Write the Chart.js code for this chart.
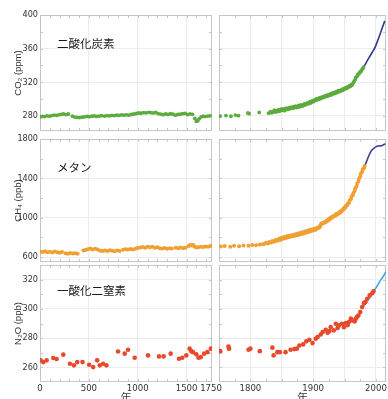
<!DOCTYPE html>
<html>
<head>
<meta charset="utf-8">
<script src="https://cdn.jsdelivr.net/npm/chart.js@4.4.0/dist/chart.umd.min.js"></script>
<style>
    html, body { margin: 0; padding: 0; background: #fff; width: 388px; height: 399px; overflow: hidden; }
    canvas { position: absolute; }
</style>
</head>
<body>
<script>
// ---- year axes
const leftYearTicks = [0, 500, 1000, 1500, 1750];
const leftYearMinor = [100, 200, 300, 400, 500, 600, 700, 800, 900, 1000, 1100, 1200, 1300, 1400, 1500, 1600, 1700];
const rightYearTicks = [1800, 1850, 1900, 1950, 2000];
const rightYearMinor = [1775, 1800, 1825, 1850, 1875, 1900, 1925, 1950, 1975, 2000];

// ---- concentration axes
const co2Ticks = [280, 320, 360, 400];
const co2Minor = [300, 340, 380];
const ch4Ticks = [600, 1000, 1400, 1800];
const ch4Minor = [800, 1200, 1600];
const n2oTicks = [260, 280, 300, 320];
const n2oMinor = [270, 290, 310];

// ---- CO2 (ppm): ice core, years 0-1750
const co2IceEarly = [[5,278.8],[25,279.5],[45,279.2],[70,280.1],[95,279.6],[120,280.4],[145,280.9],[170,280.6],[195,281.2],[215,281.8],[240,282.3],[265,281.5],[290,282.2],[330,279.8],[355,278.6],[380,278.2],[405,278.0],[430,278.4],[455,278.9],[480,279.3],[505,279.0],[530,279.6],[555,279.9],[580,279.4],[605,279.8],[630,280.2],[660,279.7],[685,280.4],[710,280.1],[735,280.6],[760,280.3],[785,280.9],[810,280.7],[835,281.2],[860,280.8],[885,281.3],[910,281.0],[935,281.6],[960,282.2],[985,282.8],[1010,283.4],[1035,283.1],[1060,283.9],[1085,283.6],[1110,284.2],[1135,283.8],[1160,283.5],[1185,284.0],[1210,282.6],[1235,282.1],[1260,281.4],[1285,282.3],[1310,281.7],[1335,282.5],[1360,281.9],[1385,280.8],[1410,281.6],[1435,281.9],[1460,282.6],[1485,282.9],[1510,281.5],[1535,282.4],[1560,281.8],[1585,277.0],[1600,273.5],[1615,274.2],[1630,276.8],[1650,278.9],[1670,279.6],[1690,279.2],[1715,279.8],[1740,280.1]];
// ice core / firn, 1750 onward
const co2IceLate = [[1752,279.8],[1761,280.3],[1769,279.6],[1776,280.9],[1781,280.2],[1796,283.4],[1798,282.6],[1814,284.1],[1829,283.2],[1832,285.0],[1834,283.6],[1836,284.4],[1838,286.8],[1839,285.1],[1841,284.7],[1842,286.3],[1844,285.4],[1845,287.5],[1847,285.8],[1848,286.9],[1850,288.4],[1851,286.7],[1853,287.9],[1854,286.2],[1856,288.8],[1857,287.4],[1859,289.3],[1860,287.9],[1862,288.6],[1863,290.2],[1865,288.9],[1866,289.8],[1868,291.0],[1869,289.3],[1871,290.6],[1872,291.5],[1874,289.9],[1875,291.1],[1877,292.4],[1878,290.6],[1880,291.9],[1881,293.0],[1883,291.7],[1884,292.9],[1886,294.1],[1887,292.8],[1889,293.9],[1890,295.2],[1892,294.3],[1893,295.6],[1895,296.8],[1896,295.3],[1898,296.5],[1899,298.0],[1901,297.1],[1902,298.6],[1904,299.8],[1905,298.7],[1907,300.4],[1908,299.6],[1910,301.5],[1911,300.3],[1913,302.1],[1914,301.2],[1916,303.0],[1917,302.2],[1919,303.7],[1920,302.9],[1922,304.6],[1923,303.5],[1925,305.3],[1926,304.4],[1928,306.1],[1929,305.0],[1931,307.2],[1932,306.1],[1934,307.9],[1935,306.9],[1937,308.8],[1938,307.8],[1940,309.9],[1941,308.6],[1943,310.4],[1944,309.5],[1946,311.5],[1947,310.6],[1949,312.3],[1950,311.8],[1952,313.6],[1953,312.7],[1955,314.5],[1956,313.9],[1958,315.9],[1959,315.0],[1961,317.4],[1962,316.6],[1964,319.3],[1965,320.9],[1967,323.4],[1968,325.8],[1970,327.1],[1971,328.9],[1973,330.2],[1974,331.6],[1976,332.8],[1977,334.5],[1979,336.1],[1980,337.6]];
// atmospheric measurements
const co2Atmos = [[1978,334.0],[1982,340.0],[1986,345.5],[1990,350.5],[1994,355.5],[1998,360.5],[2002,368.0],[2006,376.0],[2010,384.5],[2014,393.0]];

// ---- CH4 (ppb)
const ch4IceEarly = [[8,655],[30,651],[52,658],[75,648],[100,653],[125,647],[150,656],[175,650],[200,645],[225,652],[262,638],[285,635],[310,641],[335,636],[360,639],[385,634],[445,666],[465,672],[490,680],[515,686],[540,678],[565,684],[590,676],[615,665],[640,661],[665,668],[690,662],[715,670],[740,665],[765,660],[790,667],[815,663],[850,675],[875,680],[900,676],[925,682],[950,678],[975,684],[1000,692],[1025,698],[1050,703],[1075,696],[1100,706],[1125,699],[1150,704],[1175,695],[1200,701],[1225,690],[1250,686],[1275,693],[1300,684],[1325,690],[1350,687],[1390,694],[1415,689],[1440,697],[1465,691],[1490,695],[1520,712],[1535,724],[1550,718],[1565,726],[1580,708],[1600,697],[1620,700],[1645,706],[1670,702],[1695,708],[1720,704],[1745,712]];
const ch4IceLate = [[1753,708],[1759,712],[1768,706],[1774,715],[1782,711],[1789,718],[1797,716],[1803,722],[1809,719],[1815,728],[1820,731],[1823,736],[1825,746],[1828,739],[1830,754],[1833,747],[1835,764],[1838,756],[1840,774],[1843,765],[1845,784],[1847,774],[1848,792],[1850,782],[1851,797],[1853,789],[1854,803],[1856,794],[1857,809],[1859,800],[1860,813],[1862,804],[1863,818],[1865,809],[1866,823],[1868,815],[1869,828],[1871,818],[1872,832],[1874,823],[1875,838],[1877,828],[1878,843],[1880,833],[1881,849],[1883,838],[1884,853],[1886,843],[1887,860],[1889,849],[1890,866],[1892,855],[1893,872],[1895,861],[1896,878],[1898,867],[1899,884],[1901,873],[1902,888],[1904,878],[1905,894],[1907,891],[1908,902],[1910,901],[1911,916],[1912,926],[1913,942],[1915,940],[1916,950],[1918,948],[1919,960],[1921,958],[1922,970],[1924,973],[1925,990],[1927,988],[1928,1003],[1930,999],[1931,1013],[1933,1012],[1934,1025],[1936,1023],[1937,1037],[1939,1034],[1940,1048],[1942,1047],[1943,1062],[1945,1060],[1946,1077],[1948,1080],[1949,1099],[1951,1102],[1952,1120],[1954,1124],[1955,1143],[1957,1152],[1958,1175],[1960,1188],[1961,1213],[1963,1228],[1964,1250],[1966,1271],[1967,1297],[1969,1318],[1970,1345],[1972,1368],[1973,1397],[1975,1422],[1976,1450],[1978,1468],[1979,1492],[1981,1506],[1982,1526]];
const ch4Atmos = [[1982,1522],[1985,1570],[1988,1620],[1991,1662],[1994,1690],[1997,1708],[2000,1720],[2003,1728],[2006,1730],[2009,1732],[2012,1742],[2015,1750]];

// ---- N2O (ppb)
const n2oIceEarly = [[7,264.8],[34,263.6],[68,264.8],[136,266.4],[170,265.7],[238,268.7],[306,262.5],[347,261.4],[381,263.6],[435,263.6],[503,261.8],[544,260.2],[585,264.8],[612,261.4],[646,262.5],[680,261.4],[799,270.9],[867,269.4],[901,272.1],[969,266.6],[1105,268.2],[1218,267.5],[1265,267.5],[1337,269.4],[1422,265.9],[1456,266.6],[1497,268.2],[1531,272.8],[1548,271.1],[1565,270.4],[1599,268.9],[1622,266.6],[1645,267.0],[1679,269.4],[1713,270.4],[1748,272.8]];
const n2oIceLate = [[1752,271.1],[1765,274.3],[1766,272.8],[1797,272.1],[1800,272.8],[1815,271.1],[1835,273.5],[1837,268.2],[1843,270.4],[1847,270.4],[1856,270.4],[1864,272.1],[1870,272.5],[1874,272.8],[1878,275.0],[1884,275.7],[1889,277.8],[1894,278.9],[1899,276.6],[1904,279.6],[1907,280.7],[1912,282.5],[1915,284.1],[1920,285.7],[1923,283.6],[1926,284.8],[1928,287.5],[1933,285.3],[1936,289.8],[1939,287.0],[1941,288.7],[1946,289.8],[1949,287.5],[1952,290.3],[1955,288.9],[1957,291.0],[1960,293.3],[1963,292.1],[1966,291.4],[1968,293.3],[1970,294.6],[1972,295.5],[1975,297.8],[1978,301.2],[1981,303.9],[1983,304.6],[1986,306.9],[1990,309.2],[1994,310.7],[1996,312.1]];
const n2oAtmos = [[1978,300.5],[1983,303.5],[1988,306.5],[1993,309.5],[1998,313.0],[2003,316.5],[2008,320.0],[2012,322.5],[2016,325.5]];

// ---- layout (page pixels)
const rows = [
    { top: 15, bottom: 131, min: 262, max: 400, ticks: co2Ticks, minor: co2Minor, title: 'CO₂ (ppm)', label: '二酸化炭素', labelY: 44,
      dot: '#5dab3e', radius: 1.9, line: '#2e3a8a', early: co2IceEarly, late: co2IceLate, atmos: co2Atmos },
    { top: 139, bottom: 262, min: 550, max: 1800, ticks: ch4Ticks, minor: ch4Minor, title: 'CH₄ (ppb)', label: 'メタン', labelY: 168,
      dot: '#f0a033', radius: 2.0, line: '#3d3f8e', early: ch4IceEarly, late: ch4IceLate, atmos: ch4Atmos },
    { top: 265, bottom: 382, min: 250, max: 330, ticks: n2oTicks, minor: n2oMinor, title: 'N₂O (ppb)', label: '一酸化二窒素', labelY: 291,
      dot: '#e8492a', radius: 2.3, line: '#4aa3df', early: n2oIceEarly, late: n2oIceLate, atmos: n2oAtmos }
];
const cols = [
    { left: 0, width: 226, axisW: 40, plotRight: 212, min: 0, max: 1760, ticks: leftYearTicks, minor: leftYearMinor },
    { left: 214, width: 176, axisW: 5, plotRight: 388, min: 1750, max: 2016, ticks: rightYearTicks, minor: rightYearMinor }
];

const PAD_TOP = 8;
const tickFont = "'Liberation Sans Narrow', 'DejaVu Sans Condensed', 'Liberation Sans', sans-serif";

// frame with small inward tick marks
const framePlugin = {
    id: 'panelFrame',
    beforeDatasetsDraw(chart, args, opts) {
        const { ctx, chartArea: a, scales } = chart;
        ctx.save();
        ctx.strokeStyle = '#c6c6c6';
        ctx.lineWidth = 1;
        ctx.strokeRect(a.left + 0.5, a.top + 0.5, a.right - a.left - 1, a.bottom - a.top - 1);
        ctx.beginPath();
        opts.xMinor.forEach(v => {
            const px = Math.round(scales.x.getPixelForValue(v)) + 0.5;
            ctx.moveTo(px, a.top); ctx.lineTo(px, a.top + 3);
            ctx.moveTo(px, a.bottom); ctx.lineTo(px, a.bottom - 3);
        });
        opts.yMinor.concat(opts.yMajor).forEach(v => {
            const py = Math.round(scales.y.getPixelForValue(v)) + 0.5;
            ctx.moveTo(a.left, py); ctx.lineTo(a.left + 3, py);
            ctx.moveTo(a.right, py); ctx.lineTo(a.right - 3, py);
        });
        ctx.stroke();
        ctx.restore();
    }
};

// gas name written inside the panel
const labelPlugin = {
    id: 'panelLabel',
    afterDraw(chart, args, opts) {
        if (!opts.text) return;
        const { ctx } = chart;
        ctx.save();
        ctx.fillStyle = '#1a1a1a';
        ctx.font = "11.5px 'Noto Sans CJK JP', sans-serif";
        ctx.textBaseline = 'middle';
        ctx.fillText(opts.text, opts.x, opts.y);
        ctx.restore();
    }
};

const toPoints = list => list.map(p => ({ x: p[0], y: p[1] }));

rows.forEach((row, ri) => {
    const isBottom = ri === rows.length - 1;
    cols.forEach((col, ci) => {
        const isLeft = ci === 0;
        const plotH = row.bottom - row.top;
        const xH = isBottom ? 22 : 0;
        const padB = isBottom ? 0 : 6;

        const canvas = document.createElement('canvas');
        canvas.width = col.width;
        canvas.height = PAD_TOP + plotH + xH + padB;
        canvas.style.left = col.left + 'px';
        canvas.style.top = (row.top - PAD_TOP) + 'px';
        document.body.appendChild(canvas);

        const datasets = [{
            data: toPoints(isLeft ? row.early : row.late),
            backgroundColor: row.dot,
            pointRadius: row.radius,
            pointBorderWidth: 0,
            showLine: false
        }];
        if (!isLeft) {
            datasets.push({
                data: toPoints(row.atmos),
                borderColor: row.line,
                borderWidth: 1.6,
                pointRadius: 0,
                showLine: true,
                tension: 0.2
            });
        }

        new Chart(canvas, {
            type: 'scatter',
            data: { datasets },
            options: {
                responsive: false,
                animation: false,
                devicePixelRatio: 1,
                layout: { padding: { top: PAD_TOP, bottom: padB, left: 0, right: col.left + col.width - col.plotRight } },
                plugins: {
                    legend: { display: false },
                    tooltip: { enabled: false },
                    panelFrame: { xMinor: col.minor, yMinor: row.minor, yMajor: row.ticks },
                    panelLabel: { text: isLeft ? row.label : '', x: 57, y: row.labelY - row.top + PAD_TOP }
                },
                scales: {
                    x: {
                        type: 'linear',
                        min: col.min,
                        max: col.max,
                        afterBuildTicks: s => { s.ticks = col.ticks.map(v => ({ value: v })); },
                        afterFit: s => { s.height = xH; s.paddingLeft = 0; s.paddingRight = 0; },
                        border: { display: false },
                        grid: { color: '#ececec', drawTicks: false },
                        ticks: {
                            display: isBottom,
                            autoSkip: false,
                            maxRotation: 0,
                            padding: 1,
                            color: '#333',
                            font: { family: tickFont, size: 9.5 },
                            callback: v => (isLeft || v % 100 === 0 ? String(v) : '')
                        },
                        title: {
                            display: isBottom,
                            text: '年',
                            color: '#333',
                            padding: 0,
                            font: { family: "'Noto Sans CJK JP', sans-serif", size: 11 }
                        }
                    },
                    y: {
                        type: 'linear',
                        min: row.min,
                        max: row.max,
                        afterBuildTicks: s => { s.ticks = row.ticks.map(v => ({ value: v })); },
                        afterFit: s => { s.width = col.axisW; s.paddingTop = 0; s.paddingBottom = 0; },
                        border: { display: false },
                        grid: { color: '#ececec', drawTicks: false },
                        ticks: {
                            display: isLeft,
                            padding: 2,
                            color: '#333',
                            font: { family: tickFont, size: 9 },
                            callback: v => String(v)
                        },
                        title: {
                            display: isLeft,
                            text: row.title,
                            color: '#333',
                            padding: { top: 13, bottom: 0 },
                            font: { family: "'Liberation Sans', sans-serif", size: 9.5 }
                        }
                    }
                }
            },
            plugins: [framePlugin, labelPlugin]
        });
    });
});
</script>
</body>
</html>
